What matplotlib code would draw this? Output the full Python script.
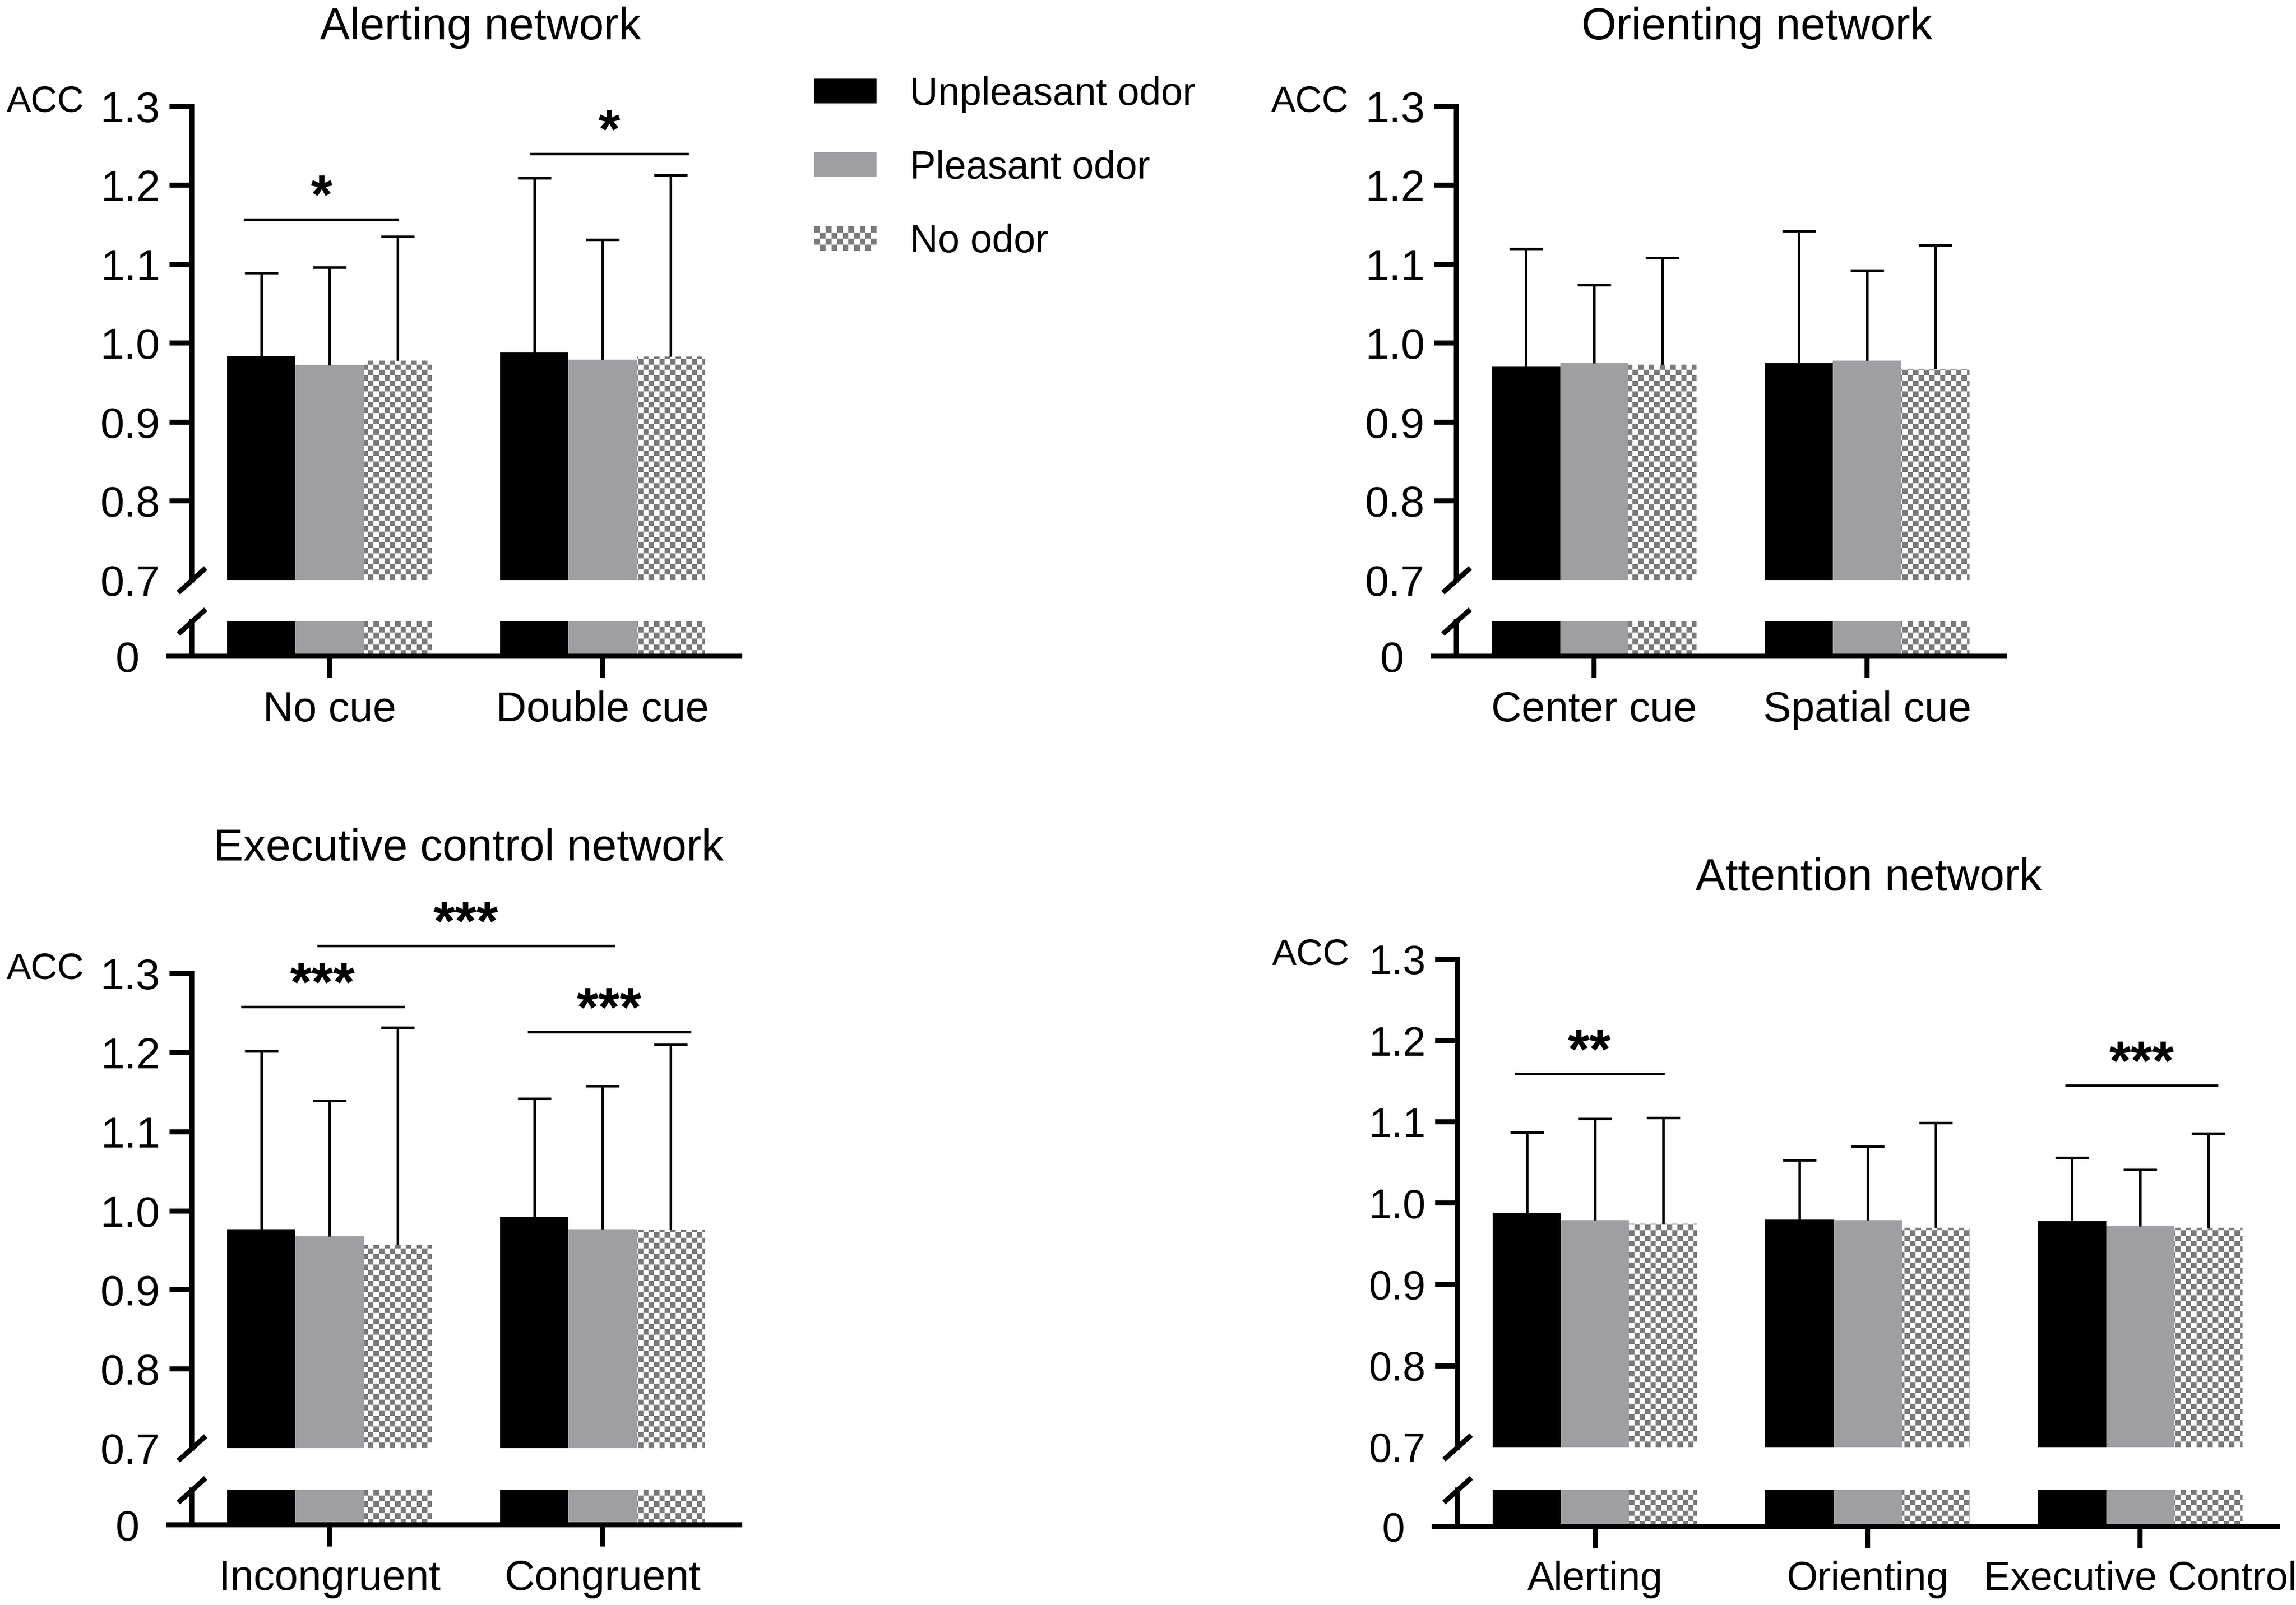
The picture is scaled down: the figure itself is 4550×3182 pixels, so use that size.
import numpy as np
import matplotlib.pyplot as plt
from matplotlib.patches import Patch, Rectangle
from matplotlib.colors import ListedColormap
from matplotlib.legend_handler import HandlerBase

plt.rcParams['font.family'] = ['Liberation Sans', 'DejaVu Sans']

W, H, DPI = 4550, 3182, 300

series = ['Unpleasant odor', 'Pleasant odor', 'No odor']
bar_colors = ['#000000', '#9e9ea3', 'white']
checker_gray = '#7a7a7a'

# Alerting network
alert_cats = ['No cue', 'Double cue']
alert_mean = [[0.984, 0.988], [0.972, 0.979], [0.978, 0.983]]
alert_sd = [[0.105, 0.221], [0.124, 0.152], [0.157, 0.230]]
alert_sig = [(-0.31, 0.25, 1.157, '*'), (0.74, 1.31, 1.240, '*')]

# Orienting network
orient_cats = ['Center cue', 'Spatial cue']
orient_mean = [[0.971, 0.975], [0.975, 0.978], [0.973, 0.968]]
orient_sd = [[0.149, 0.167], [0.099, 0.114], [0.135, 0.156]]
orient_sig = []

# Executive control network
exec_cats = ['Incongruent', 'Congruent']
exec_mean = [[0.977, 0.992], [0.968, 0.977], [0.957, 0.976]]
exec_sd = [[0.225, 0.150], [0.171, 0.181], [0.275, 0.234]]
exec_sig = [(-0.04, 1.04, 1.335, '***'), (-0.32, 0.27, 1.258, '***'),
            (0.73, 1.32, 1.226, '***')]

# Attention network
attn_cats = ['Alerting', 'Orienting', 'Executive Control']
attn_mean = [[0.988, 0.980, 0.978], [0.979, 0.979, 0.972], [0.975, 0.970, 0.970]]
attn_sd = [[0.099, 0.073, 0.078], [0.125, 0.091, 0.069], [0.130, 0.129, 0.116]]
attn_sig = [(-0.29, 0.25, 1.159, '**'), (1.73, 2.28, 1.145, '***')]

yticks = [0.7, 0.8, 0.9, 1.0, 1.1, 1.2, 1.3]

fig = plt.figure(figsize=(W / DPI, H / DPI), dpi=DPI)
LW = 2.4
BW = 0.25
SPINE_X = -0.505
CELL = 10.7  # checker cell size in pixels


def checker_fill(ax, bar):
    pos = ax.get_position()
    nx = max(int(round(pos.width * W / CELL)), 1)
    ny = max(int(round(pos.height * H / CELL)), 1)
    yy, xx = np.indices((ny, nx))
    board = ((xx + yy) % 2).astype(float)
    im = ax.imshow(board, cmap=ListedColormap([checker_gray, 'white']),
                   extent=(0, 1, 0, 1), transform=ax.transAxes, aspect='auto',
                   interpolation='nearest', zorder=2.1)
    im.set_clip_path(bar.get_path(), bar.get_transform())


class CheckerHandler(HandlerBase):
    # legend swatch drawn as a small checkerboard
    def create_artists(self, legend, orig_handle, xdescent, ydescent, width,
                       height, fontsize, trans):
        nx, ny = 11, 4
        cw, ch = width / nx, height / ny
        arts = []
        for i in range(nx):
            for j in range(ny):
                if (i + j) % 2 == 1:
                    arts.append(Rectangle((-xdescent + i * cw, -ydescent + j * ch),
                                          cw, ch, facecolor=checker_gray,
                                          edgecolor='none', transform=trans))
        return arts


def draw_bars(ax, means, xs):
    for k in range(3):
        bars = ax.bar(xs + (k - 1) * BW, means[k], BW, color=bar_colors[k],
                      edgecolor='none', zorder=2)
        if k == 2:
            for b in bars:
                checker_fill(ax, b)


def slash(ax, y):
    ax.plot([SPINE_X], [y], marker=[(-1, -0.9), (1, 0.9)], markersize=13,
            mew=LW, color='k', clip_on=False, zorder=5, solid_capstyle='butt')


def panel(up_rect, lo_rect, cats, means, sds, sigs, title, title_xy,
          fs=20.5, xfs=20):
    xs = np.arange(len(cats))
    xlim = (-0.59, len(cats) - 0.497)

    # upper part of the broken axis
    ax = fig.add_axes(up_rect)
    draw_bars(ax, means, xs)
    for k in range(3):
        eb = ax.errorbar(xs + (k - 1) * BW, means[k],
                         yerr=[np.zeros(len(cats)), sds[k]], fmt='none',
                         ecolor='k', elinewidth=1.2, capsize=8, capthick=1.2,
                         zorder=3)
        eb[1][0].set_visible(False)
    ax.set_xlim(xlim)
    ax.set_ylim(0.7, 1.3)
    for s in ['top', 'right', 'bottom']:
        ax.spines[s].set_visible(False)
    ax.spines['left'].set_position(('data', SPINE_X))
    ax.spines['left'].set_linewidth(LW)
    ax.set_yticks(yticks)
    ax.set_yticklabels([f'{v:.1f}' for v in yticks])
    ax.tick_params(axis='y', direction='out', length=10.5, width=LW,
                   labelsize=fs, pad=4.5)
    ax.yaxis.get_major_ticks()[0].tick1line.set_visible(False)
    ax.set_xticks([])
    ax.patch.set_visible(False)
    slash(ax, 0.7)
    ax.annotate('ACC', xy=(0, 1.3), xycoords=('axes fraction', 'data'),
                xytext=(-77, 2), textcoords='offset points', ha='left',
                va='center', fontsize=17.5)
    for x0, x1, y, lab in sigs:
        ax.plot([x0, x1], [y, y], color='k', lw=1.2, clip_on=False)
        ax.annotate(lab, xy=((x0 + x1) / 2, y), xytext=(0, 3.0),
                    textcoords='offset points', ha='center', va='baseline',
                    fontsize=26.5, fontweight='bold', annotation_clip=False)

    # lower part with the zero line
    axl = fig.add_axes(lo_rect)
    draw_bars(axl, means, xs)
    axl.set_xlim(xlim)
    axl.set_ylim(0, 0.05)
    for s in ['top', 'right']:
        axl.spines[s].set_visible(False)
    axl.spines['left'].set_position(('data', SPINE_X))
    axl.spines['left'].set_linewidth(LW)
    axl.spines['bottom'].set_linewidth(LW)
    axl.set_yticks([0])
    axl.set_yticklabels(['0'])
    axl.tick_params(axis='y', length=0, labelsize=fs, pad=25)
    axl.set_xticks(xs)
    axl.set_xticklabels(cats)
    axl.tick_params(axis='x', direction='out', length=10.3, width=LW,
                    labelsize=xfs, pad=6)
    axl.patch.set_visible(False)
    slash(axl, 0.05)

    fig.text(title_xy[0], title_xy[1], title, ha='center', va='center',
             fontsize=21.3)


panel([0.0734, 0.6386, 0.2488, 0.2951], [0.0734, 0.5911, 0.2488, 0.0217],
      alert_cats, alert_mean, alert_sd, alert_sig, 'Alerting network',
      (0.2092, 0.9826))
panel([0.6242, 0.6386, 0.2488, 0.2951], [0.6242, 0.5911, 0.2488, 0.0217],
      orient_cats, orient_mean, orient_sd, orient_sig, 'Orienting network',
      (0.7653, 0.9826))
panel([0.0734, 0.0977, 0.2488, 0.2958], [0.0734, 0.0500, 0.2488, 0.0217],
      exec_cats, exec_mean, exec_sd, exec_sig, 'Executive control network',
      (0.2042, 0.4710))
panel([0.6246, 0.0984, 0.3673, 0.3039], [0.6246, 0.0490, 0.3673, 0.0227],
      attn_cats, attn_mean, attn_sd, attn_sig, 'Attention network',
      (0.8138, 0.4527), fs=19.5, xfs=19)

handles = [Patch(facecolor=c, edgecolor='none') for c in bar_colors]
fig.legend(handles, series, loc='upper left', handler_map={handles[2]: CheckerHandler()},
           bbox_to_anchor=(0.3547, 0.9527), frameon=False, fontsize=18.5,
           handlelength=1.6, handleheight=0.6, handletextpad=0.85,
           labelspacing=0.95, borderpad=0, borderaxespad=0)

fig.savefig('out.png', dpi=DPI)
